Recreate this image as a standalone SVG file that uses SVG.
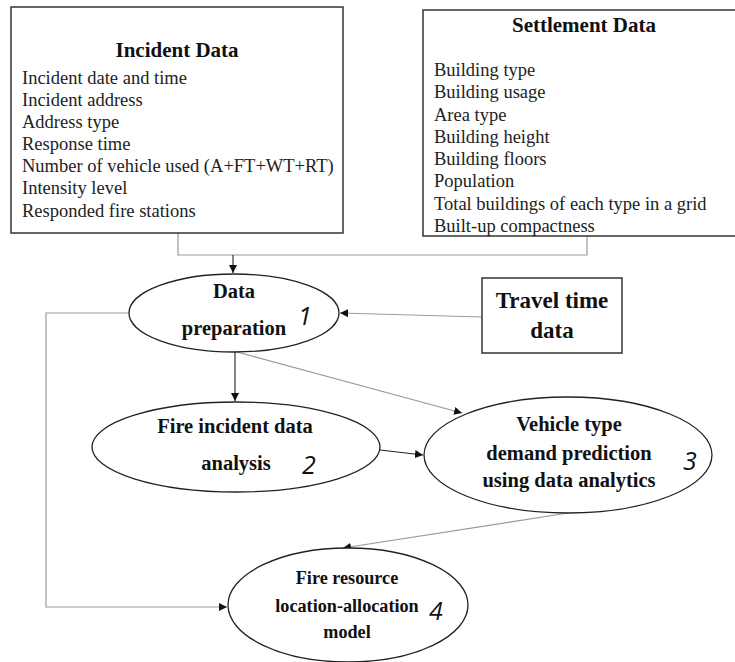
<svg xmlns="http://www.w3.org/2000/svg" width="735" height="662" viewBox="0 0 735 662">
  <style>
    .box { fill: #fff; stroke: #333; stroke-width: 1.5; }
    .node { fill: #fff; stroke: #222; stroke-width: 1.3; }
    .title { font-family: "Liberation Serif", "Times New Roman", serif; font-weight: bold; font-size: 21px; fill: #111; text-anchor: middle; }
    .item { font-family: "Liberation Serif", "Times New Roman", serif; font-size: 18.5px; fill: #222; }
    .label { font-family: "Liberation Serif", "Times New Roman", serif; font-weight: bold; font-size: 20.5px; fill: #111; text-anchor: middle; }
    .big { font-size: 23px; }
    .small { font-size: 18.2px; }
    .num { font-family: "Open Sans", "Noto Sans", sans-serif; font-style: italic; font-size: 25px; fill: #111; text-anchor: middle; }
    .gray { fill: none; stroke: #9a9a9a; stroke-width: 1.2; }
    .dark { fill: none; stroke: #222; stroke-width: 1.1; }
  </style>
  <defs>
    <marker id="arrow" markerUnits="userSpaceOnUse" markerWidth="9" markerHeight="8" refX="8" refY="4" orient="auto">
      <path d="M0,0 L8,4 L0,8 Z" fill="#111"/>
    </marker>
  </defs>
  <rect width="735" height="662" fill="#fff"/>

  <!-- connectors -->
  <g id="connectors">
    <path class="gray" d="M178 233 V255 H587 V236"/>
    <path class="dark" d="M233 255 V273" marker-end="url(#arrow)"/>
    <path class="gray" d="M129 313 H46 V607 H227" marker-end="url(#arrow)"/>
    <path class="gray" d="M482 317 L340 313" marker-end="url(#arrow)"/>
    <path class="dark" d="M235 352 V401" marker-end="url(#arrow)"/>
    <path class="gray" d="M237 352 L462 413" marker-end="url(#arrow)"/>
    <path class="dark" d="M380 450 L423 455" marker-end="url(#arrow)"/>
    <path class="gray" d="M568 513 L343 548" marker-end="url(#arrow)"/>
  </g>

  <!-- input data boxes -->
  <g id="incident-data">
    <rect class="box" x="11" y="7" width="332" height="226"/>
    <text class="title" x="177" y="57">Incident Data</text>
    <text class="item" x="22" y="84">Incident date and time</text>
    <text class="item" x="22" y="106">Incident address</text>
    <text class="item" x="22" y="128">Address type</text>
    <text class="item" x="22" y="150">Response time</text>
    <text class="item" x="22" y="172">Number of vehicle used (A+FT+WT+RT)</text>
    <text class="item" x="22" y="194">Intensity level</text>
    <text class="item" x="22" y="217">Responded fire stations</text>
  </g>

  <g id="settlement-data">
    <rect class="box" x="423" y="10" width="320" height="226"/>
    <text class="title" x="584" y="32">Settlement Data</text>
    <text class="item" x="434" y="76">Building type</text>
    <text class="item" x="434" y="98">Building usage</text>
    <text class="item" x="434" y="121">Area type</text>
    <text class="item" x="434" y="143">Building height</text>
    <text class="item" x="434" y="165">Building floors</text>
    <text class="item" x="434" y="187">Population</text>
    <text class="item" x="434" y="210">Total buildings of each type in a grid</text>
    <text class="item" x="434" y="232">Built-up compactness</text>
  </g>

  <g id="travel-time-data">
    <rect class="box" x="482" y="278" width="140" height="75"/>
    <text class="label big" x="552" y="308">Travel time</text>
    <text class="label big" x="552" y="338">data</text>
  </g>

  <!-- process steps -->
  <g id="step-1">
    <ellipse class="node" cx="234" cy="313" rx="105" ry="39"/>
    <text class="label" x="234" y="298">Data</text>
    <text class="label" x="234" y="335">preparation</text>
    <text class="num" x="305" y="325">1</text>
  </g>

  <g id="step-2">
    <ellipse class="node" cx="236" cy="447" rx="144" ry="45"/>
    <text class="label" x="235" y="433">Fire incident data</text>
    <text class="label" x="236" y="470">analysis</text>
    <text class="num" x="309" y="474">2</text>
  </g>

  <g id="step-3">
    <ellipse class="node" cx="568" cy="455" rx="144" ry="58"/>
    <text class="label" x="569" y="431">Vehicle type</text>
    <text class="label" x="569" y="460">demand prediction</text>
    <text class="label" x="569" y="487">using data analytics</text>
    <text class="num" x="690" y="470">3</text>
  </g>

  <g id="step-4">
    <ellipse class="node" cx="348" cy="605" rx="120" ry="57"/>
    <text class="label small" x="347" y="584">Fire resource</text>
    <text class="label small" x="347" y="612">location-allocation</text>
    <text class="label small" x="347" y="638">model</text>
    <text class="num" x="436" y="620">4</text>
  </g>
</svg>
